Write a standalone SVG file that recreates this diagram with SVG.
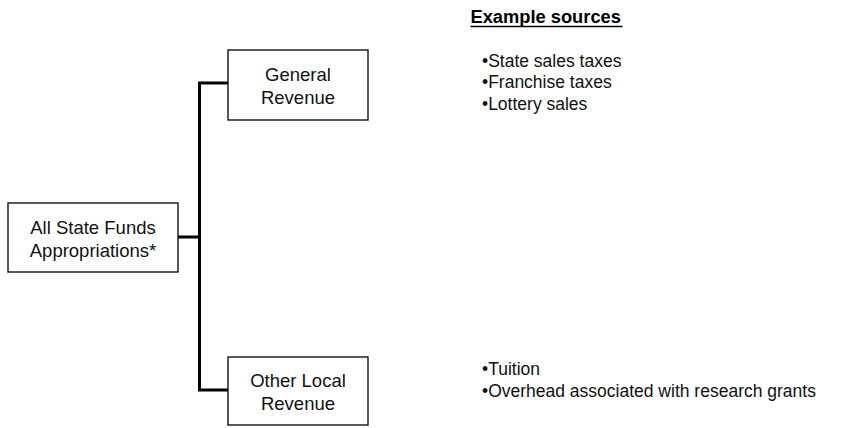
<svg xmlns="http://www.w3.org/2000/svg" width="848" height="428" viewBox="0 0 848 428">
  <style>
    .box { fill: #fff; stroke: #000; stroke-width: 1.3; }
    .lbl { font-family: "Liberation Sans", Arial, sans-serif; font-size: 18.5px; fill: #111; text-anchor: middle; }
    .src { font-family: "Liberation Sans", Arial, sans-serif; font-size: 17.5px; fill: #111; }
    .hdr { font-family: "Liberation Sans", Arial, sans-serif; font-size: 18.3px; font-weight: bold; fill: #000; }
    .wire { fill: none; stroke: #000; stroke-width: 3; }
  </style>
  <rect width="848" height="428" fill="#fff"/>

  <!-- tree connectors -->
  <g id="connectors">
    <path class="wire" d="M178 237 H199.5"/>
    <path class="wire" d="M228 83 H199.5 V390 H228"/>
  </g>

  <g id="node-all-state-funds">
    <rect class="box" x="8" y="203" width="170" height="69"/>
    <text class="lbl" x="93" y="233.5">All State Funds</text>
    <text class="lbl" x="93" y="256.5">Appropriations*</text>
  </g>

  <g id="node-general-revenue">
    <rect class="box" x="228" y="50" width="140" height="70"/>
    <text class="lbl" x="298" y="80.5">General</text>
    <text class="lbl" x="298" y="103.5">Revenue</text>
  </g>

  <g id="node-other-local-revenue">
    <rect class="box" x="228" y="357" width="140" height="68"/>
    <text class="lbl" x="298" y="387">Other Local</text>
    <text class="lbl" x="298" y="410">Revenue</text>
  </g>

  <!-- source lists -->
  <g id="sources-header">
    <text class="hdr" x="470.5" y="22.5">Example sources</text>
    <line x1="470.5" y1="26.5" x2="622.5" y2="26.5" stroke="#000" stroke-width="1.3"/>
  </g>

  <g id="sources-general">
    <text class="src" x="482" y="66.5">•State sales taxes</text>
    <text class="src" x="482" y="88.2">•Franchise taxes</text>
    <text class="src" x="482" y="110">•Lottery sales</text>
  </g>

  <g id="sources-other-local">
    <text class="src" x="482" y="375">•Tuition</text>
    <text class="src" x="482" y="396.7">•Overhead associated with research grants</text>
  </g>
</svg>
